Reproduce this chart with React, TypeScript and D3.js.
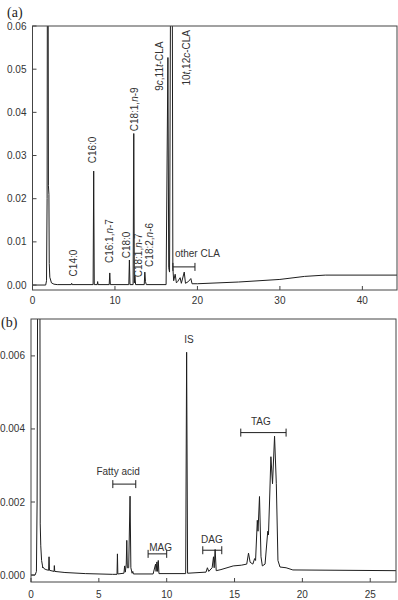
import React from "react";
import * as d3 from "d3";

// ---------- Panel (a): GC chromatogram (time min, intensity) ----------
const traceA: [number, number][] = [
  [0, 0], [1.6, 0], [1.7, 0.001], [1.77, 0.02], [1.81, 0.08], [1.89, 0.08], [1.93, 0.023], [1.99, 0.021],
  [2.03, 0.005], [2.1, 0.0018], [2.3, 0.0005], [2.6, 0.0002], [3, 0.0001],
  [4.7, 0.0001], [4.75, 0.0004], [4.8, 0.0001],
  [7.35, 0.0001], [7.42, 0.0264], [7.49, 0.0001],
  [7.85, 0.0001], [7.9, 0.0008], [7.95, 0.0001],
  [9.3, 0.0001], [9.37, 0.0028], [9.44, 0.0001],
  [11.68, 0.0001], [11.75, 0.0058], [11.82, 0.0001],
  [12.2, 0.0001], [12.28, 0.0351], [12.35, 0.0005], [12.42, 0.0022], [12.5, 0.0001],
  [13.55, 0.0001], [13.62, 0.003], [13.7, 0.0008], [13.8, 0.0001],
  [16.2, 0.0001], [16.42, 0.0527], [16.52, 0.004], [16.62, 0.003], [16.76, 0.08], [16.94, 0.08],
  [17.02, 0.004], [17.12, 0.001],
  [17.3, 0.0025], [17.45, 0.0005], [17.6, 0.0008], [17.9, 0.0017], [18.05, 0.0004],
  [18.4, 0.003], [18.55, 0.0004], [18.9, 0.0008], [19.2, 0.0015], [19.35, 0.0003],
  [20, 0.0003], [25, 0.0007], [30, 0.0013], [33, 0.002], [35.5, 0.0023], [44.2, 0.0023],
];
const xTicksA = [0, 10, 20, 30, 40];
const yTicksA = [0, 0.01, 0.02, 0.03, 0.04, 0.05, 0.06];

// rotated peak labels: [parts, x (min), y (intensity at text start)]
type Part = [string, boolean];
const labelsA: { parts: Part[]; x: number; y: number }[] = [
  { parts: [["C14:0", false]], x: 4.97, y: 0.002 },
  { parts: [["C16:0", false]], x: 7.33, y: 0.0282 },
  { parts: [["C16:1,", false], ["n", true], ["-7", false]], x: 9.39, y: 0.0051 },
  { parts: [["C18:0", false]], x: 11.42, y: 0.0062 },
  { parts: [["C18:1,", false], ["n", true], ["-9", false]], x: 12.42, y: 0.0356 },
  { parts: [["C18:1,", false], ["n", true], ["-7", false]], x: 12.9, y: 0.0018 },
  { parts: [["C18:2,", false], ["n", true], ["-6", false]], x: 14.24, y: 0.0042 },
  { parts: [["9", false], ["c", true], [",11", false], ["t", true], ["-CLA", false]], x: 15.45, y: 0.045 },
  { parts: [["10", false], ["t", true], [",12", false], ["c", true], ["-CLA", false]], x: 18.73, y: 0.0462 },
];
const bracketsA = [{ text: "other CLA", x0: 17.03, x1: 19.7, y: 0.0042, tx: 17.27, ty: 0.0065, anchor: "start" }];

// ---------- Panel (b): HPLC chromatogram ----------
const traceB: [number, number][] = [
  [0, 0], [0.3, 0], [0.4, 0.0001], [0.45, 0.002], [0.5, 0.01], [0.65, 0.01], [0.68, 0.0014],
  [0.72, 0.0008], [0.78, 0.0004], [0.85, 0.00025], [0.86, 0.0002], [0.88, 0.00022], [0.95, 0.00018],
  [1.1, 0.00015], [1.3, 0.00013], [1.33, 0.0005], [1.36, 0.00013], [1.7, 0.0001], [1.72, 0.00026],
  [1.75, 0.0001], [2.5, 0.00007], [4, 0.00004], [6, 0.00002], [6.34, 0.00002], [6.37, 0.00058],
  [6.4, 0.00003], [6.85, 0.00005], [6.9, 0.00025], [6.95, 0.00008], [7.02, 0.0003], [7.06, 0.00095],
  [7.1, 0.0002], [7.2, 0.0002], [7.3, 0.00216], [7.36, 0.0002], [7.45, 0.00005], [7.5, 0.0001],
  [7.55, 0.00003], [9.0, 0.00003], [9.18, 0.0003], [9.22, 0.0001], [9.28, 0.00036], [9.33, 0.0001],
  [9.38, 0.0004], [9.43, 0.00004], [11.4, 0.00004], [11.47, 0.0061], [11.54, 0.00005],
  [12.9, 0.00008], [13.0, 0.0002], [13.1, 0.0001], [13.35, 0.0002], [13.45, 0.0005], [13.5, 0.0002],
  [13.57, 0.0007], [13.65, 0.00012], [14.0, 0.00015], [14.9, 0.00025], [15.5, 0.00027], [15.9, 0.0003],
  [16.03, 0.0006], [16.15, 0.00035], [16.35, 0.0003], [16.48, 0.00045], [16.55, 0.0004],
  [16.68, 0.0015], [16.73, 0.0012], [16.84, 0.00215], [16.95, 0.0005], [17.05, 0.00025],
  [17.25, 0.0003], [17.45, 0.0012], [17.5, 0.0011], [17.58, 0.002], [17.68, 0.00324], [17.8, 0.0025],
  [17.95, 0.0038], [18.08, 0.0025], [18.2, 0.0004], [18.35, 0.00022], [18.8, 0.0002], [19.3, 0.00014],
  [27, 0.00012],
];
const xTicksB = [0, 5, 10, 15, 20, 25];
const yTicksB = [0, 0.002, 0.004, 0.006];
const labelsB = [{ text: "IS", x: 11.65, y: 0.00636 }];
const bracketsB = [
  { text: "Fatty acid", x0: 6.03, x1: 7.72, y: 0.00249, tx: 6.42, ty: 0.00274, anchor: "middle" },
  { text: "MAG", x0: 8.63, x1: 10.0, y: 0.00058, tx: 9.55, ty: 0.00066, anchor: "middle" },
  { text: "DAG", x0: 12.66, x1: 14.06, y: 0.00068, tx: 13.33, ty: 0.00088, anchor: "middle" },
  { text: "TAG", x0: 15.46, x1: 18.8, y: 0.0039, tx: 16.94, ty: 0.00411, anchor: "middle" },
];

const FONT = "'Liberation Sans', Arial, sans-serif";
const INK = "#1e1e1e";
const AXIS = "#444";
const TXT = "#333";

type Bracket = { text: string; x0: number; x1: number; y: number; tx: number; ty: number; anchor: string };

function Panel(props: {
  id: string;
  trace: [number, number][];
  xDomain: [number, number];
  yDomain: [number, number];
  left: number; right: number; top: number; bottom: number;
  yZero: number;
  xTicks: number[]; yTicks: number[]; yFmt: (v: number) => string;
  xLabelY: number;
  brackets: Bracket[];
}) {
  const { id, trace, left, right, top, bottom } = props;
  const x = d3.scaleLinear().domain(props.xDomain).range([left, right]);
  const y = d3.scaleLinear().domain(props.yDomain).range([bottom, top]);
  const line = d3.line<[number, number]>().x((d) => x(d[0])).y((d) => y(d[1]));
  return (
    <g>
      <defs>
        <clipPath id={id}>
          <rect x={left} y={top} width={right - left} height={bottom - top} />
        </clipPath>
      </defs>
      <path d={line(trace) || ""} fill="none" stroke={INK} strokeWidth={1} clipPath={`url(#${id})`} />
      <rect x={left} y={top} width={right - left} height={bottom - top} fill="none" stroke={AXIS} strokeWidth={1} />
      {props.xTicks.map((t) => (
        <g key={"x" + t}>
          <line x1={x(t)} x2={x(t)} y1={bottom} y2={bottom - 4} stroke={AXIS} />
          <text x={x(t)} y={props.xLabelY} textAnchor="middle" fontSize={10} fill={TXT} fontFamily={FONT}>{t}</text>
        </g>
      ))}
      {props.yTicks.map((t) => (
        <g key={"y" + t}>
          <line x1={left} x2={left + 4} y1={y(t)} y2={y(t)} stroke={AXIS} />
          <text x={left - 6} y={y(t)} dy="0.35em" textAnchor="end" fontSize={10} fill={TXT} fontFamily={FONT}>{props.yFmt(t)}</text>
        </g>
      ))}
      {props.brackets.map((b) => (
        <g key={b.text}>
          <line x1={x(b.x0)} x2={x(b.x1)} y1={y(b.y)} y2={y(b.y)} stroke={INK} />
          <line x1={x(b.x0)} x2={x(b.x0)} y1={y(b.y) - 4} y2={y(b.y) + 4} stroke={INK} />
          <line x1={x(b.x1)} x2={x(b.x1)} y1={y(b.y) - 4} y2={y(b.y) + 4} stroke={INK} />
          <text x={x(b.tx)} y={y(b.ty)} textAnchor={b.anchor as any} fontSize={10} fill={TXT} fontFamily={FONT}>{b.text}</text>
        </g>
      ))}
    </g>
  );
}

export default function App() {
  const xa = d3.scaleLinear().domain([0, 44.2]).range([32.5, 397]);
  const ya = d3.scaleLinear().domain([-0.00115, 0.06]).range([290, 26]);
  const xb = d3.scaleLinear().domain([0, 26.9]).range([31, 396]);
  const yb = d3.scaleLinear().domain([-0.00019, 0.00701]).range([582, 319]);
  return (
    <svg width={398} height={600} style={{ position: "absolute", left: 0, top: 0, background: "#fff" }}>
      <rect width={398} height={600} fill="#fff" />
      <text x={7} y={17} fontSize={14} fontFamily="'Liberation Serif', 'DejaVu Serif', serif" fill={INK}>(a)</text>
      <Panel id="clipA" trace={traceA} xDomain={[0, 44.2]} yDomain={[-0.00115, 0.06]}
        left={32.5} right={397} top={26} bottom={290} yZero={0}
        xTicks={xTicksA} yTicks={yTicksA} yFmt={d3.format(".2f")} xLabelY={304} brackets={bracketsA} />
      {labelsA.map((l, i) => (
        <text key={i} transform={`translate(${xa(l.x)},${ya(l.y)}) rotate(-90)`} dy="0.35em"
          fontSize={10} fill={TXT} fontFamily={FONT}>
          {l.parts.map((p, j) => (
            <tspan key={j} fontStyle={p[1] ? "italic" : "normal"}>{p[0]}</tspan>
          ))}
        </text>
      ))}
      <text x={1} y={327} fontSize={14} fontFamily="'Liberation Serif', 'DejaVu Serif', serif" fill={INK}>(b)</text>
      <Panel id="clipB" trace={traceB} xDomain={[0, 26.9]} yDomain={[-0.00019, 0.00701]}
        left={31} right={396} top={319} bottom={582} yZero={0}
        xTicks={xTicksB} yTicks={yTicksB} yFmt={d3.format(".3f")} xLabelY={598} brackets={bracketsB} />
      {labelsB.map((l) => (
        <text key={l.text} x={xb(l.x)} y={yb(l.y)} textAnchor="middle" fontSize={10} fill={TXT} fontFamily={FONT}>{l.text}</text>
      ))}
    </svg>
  );
}
